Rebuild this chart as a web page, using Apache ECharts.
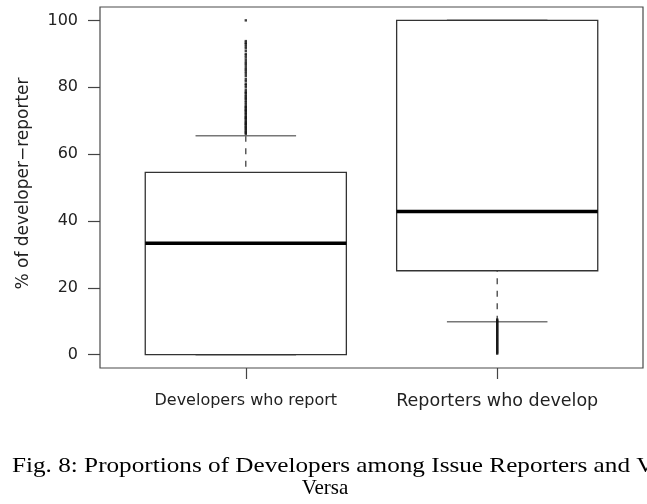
<!DOCTYPE html>
<html>
<head>
<meta charset="utf-8">
<title>Proportions of Developers among Issue Reporters and Vice Versa</title>
<script src="https://cdn.jsdelivr.net/npm/echarts@6/dist/echarts.min.js"></script>
<style>
html,body{margin:0;padding:0;background:#fff;}
#chart{width:647px;height:504px;}
</style>
</head>
<body>
<div id="chart"></div>
<script>
// box statistics, one entry per group
var categories = ["Developers who report", "Reporters who develop"];
var positions = [1, 2];
var lowerWhisker = [0, 9.8];
var lowerHinge = [0, 25.1];
var medians = [33.3, 42.8];
var upperHinge = [54.5, 100];
var upperWhisker = [65.5, 100];

// outliers
var devOutliers = [66.0, 66.4, 66.7, 67.1, 67.5, 67.9, 68.2, 68.6, 69.0, 69.2, 69.6, 70.0,
	70.4, 70.8, 71.0, 71.4, 71.9, 72.2, 72.7, 73.0, 73.3, 73.7, 74.1, 74.4, 75.0, 75.5,
	76.0, 76.5, 76.9, 77.3, 77.8, 78.3, 78.6, 79.2, 80.0, 80.6, 81.0, 81.8, 82.4, 83.3,
	84.0, 84.6, 85.2, 85.7, 86.4, 87.0, 87.5, 88.2, 88.9, 89.5, 90.0, 90.9, 91.7, 92.3,
	92.9, 93.3, 93.8, 100];
var repOutliers = [0.3, 0.6, 0.9, 1.2, 1.5, 1.8, 2.1, 2.4, 2.7, 3.0, 3.3, 3.6, 3.9, 4.2,
	4.5, 4.8, 5.1, 5.4, 5.7, 6.0, 6.3, 6.6, 6.9, 7.2, 7.5, 7.8, 8.1, 8.4, 8.7, 9.0, 9.3,
	9.6, 9.9, 10.2, 10.5];

var yTicks = [0, 20, 40, 60, 80, 100];
var yName = "% of developer\u2212reporter";
var captionLine1 = "Fig. 8: Proportions of Developers among Issue Reporters and Vice";
var captionLine2 = "Versa";

var boxData = [];
for (var i = 0; i < categories.length; i++) {
	boxData.push([positions[i], lowerWhisker[i], lowerHinge[i], medians[i], upperHinge[i], upperWhisker[i]]);
}
var outlierData = [];
for (var j = 0; j < devOutliers.length; j++) {
	outlierData.push([positions[0], devOutliers[j]]);
}
for (var k = 0; k < repOutliers.length; k++) {
	outlierData.push([positions[1], repOutliers[k]]);
}

var sansFont = "DejaVu Sans";

function renderBox(params, api) {
	var x = api.value(0);
	var lo = api.value(1), q1 = api.value(2), med = api.value(3), q3 = api.value(4), hi = api.value(5);
	var halfBox = api.size([0.4, 0])[0];
	var halfCap = api.size([0.2, 0])[0];
	var pLo = api.coord([x, lo]), pQ1 = api.coord([x, q1]), pMed = api.coord([x, med]);
	var pQ3 = api.coord([x, q3]), pHi = api.coord([x, hi]);
	var cx = pMed[0];
	var dash = {stroke: "#333", lineWidth: 1.2, lineDash: [6, 6.5]};
	var capStyle = {stroke: "#777", lineWidth: 1.5};
	var children = [];
	//whiskers, drawn from the whisker end towards the hinge
	if (hi > q3) {
		children.push({type: "line", shape: {x1: cx, y1: pHi[1], x2: cx, y2: pQ3[1]}, style: dash});
	}
	if (lo < q1) {
		children.push({type: "line", shape: {x1: cx, y1: pLo[1], x2: cx, y2: pQ1[1]}, style: dash});
	}
	//staples
	children.push({type: "line", shape: {x1: cx - halfCap, y1: pHi[1], x2: cx + halfCap, y2: pHi[1]}, style: capStyle});
	children.push({type: "line", shape: {x1: cx - halfCap, y1: pLo[1], x2: cx + halfCap, y2: pLo[1]}, style: capStyle});
	//box
	children.push({
		type: "rect",
		shape: {x: cx - halfBox, y: pQ3[1], width: halfBox * 2, height: pQ1[1] - pQ3[1]},
		style: {fill: "none", stroke: "#333", lineWidth: 1.3}
	});
	//median
	children.push({type: "line", shape: {x1: cx - halfBox, y1: pMed[1], x2: cx + halfBox, y2: pMed[1]},
		style: {stroke: "#000", lineWidth: 3.5}});
	return {type: "group", children: children};
}

var myChart = echarts.init(document.getElementById("chart"), null, {renderer: "canvas"});
myChart.setOption({
	animation: false,
	backgroundColor: "#fff",
	grid: {
		left: 100, right: 4, top: 7, bottom: 136,
		show: true, borderColor: "#4a4a4a", borderWidth: 1.2, backgroundColor: "transparent"
	},
	xAxis: {
		type: "value",
		min: 0.42, max: 2.58,
		splitLine: {show: false},
		axisLine: {show: false, onZero: false},
		axisTick: {show: true, length: 11, customValues: positions, lineStyle: {color: "#444", width: 1.2}},
		axisLabel: {
			show: true, margin: 23, customValues: positions,
			formatter: function (v) {
				var idx = positions.indexOf(v);
				return idx === 0 ? "{a|" + categories[0] + "}" : "{b|" + categories[1] + "}";
			},
			rich: {
				a: {fontFamily: sansFont, fontSize: 16, color: "#222", lineHeight: 20},
				b: {fontFamily: sansFont, fontSize: 17.5, color: "#222", lineHeight: 20}
			}
		}
	},
	yAxis: {
		type: "value",
		min: -4, max: 104,
		name: yName,
		nameLocation: "middle",
		nameRotate: 90,
		nameGap: 68,
		nameTextStyle: {fontFamily: sansFont, fontSize: 17, color: "#222", padding: [0, 0, 0, 8]},
		splitLine: {show: false},
		axisLine: {show: false, onZero: false},
		axisTick: {show: true, length: 12, customValues: yTicks, lineStyle: {color: "#444", width: 1.2}},
		axisLabel: {show: true, margin: 22, customValues: yTicks, fontFamily: sansFont, fontSize: 16, color: "#222"}
	},
	series: [
		{
			type: "custom",
			renderItem: renderBox,
			data: boxData,
			encode: {x: 0, y: [1, 2, 3, 4, 5]},
			z: 2
		},
		{
			type: "scatter",
			data: outlierData,
			symbol: "rect",
			symbolSize: [2.4, 2.4],
			itemStyle: {color: "#111"},
			z: 3
		}
	],
	graphic: [
		{
			type: "text", x: 12, y: 466, scaleX: 1.2,
			style: {text: captionLine1, fontFamily: "Liberation Serif", fontSize: 21, fill: "#000",
				textAlign: "left", textVerticalAlign: "middle"}
		},
		{
			type: "text", x: 325, y: 488,
			style: {text: captionLine2, fontFamily: "Liberation Serif", fontSize: 21, fill: "#000",
				textAlign: "center", textVerticalAlign: "middle"}
		}
	]
});
</script>
</body>
</html>
